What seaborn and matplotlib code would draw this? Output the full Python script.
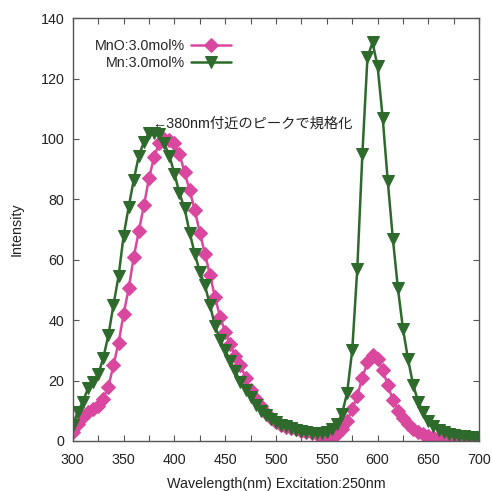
import numpy as np
import pandas as pd
import matplotlib
matplotlib.use("Agg")
import matplotlib.pyplot as plt
import seaborn as sns

# ---- Data (5 nm steps)
wavelength = list(range(300, 701, 5))

mno_3mol = [
    3.0, 5.5, 8.0, 9.5, 10.5, 11.5, 14.0, 18.0, 25.0, 32.5,      # 300-345
    42.0, 50.5, 61.0, 69.5, 78.0, 87.0, 94.0, 98.5, 100.0, 99.5,  # 350-395
    98.5, 95.0, 89.0, 83.0, 76.5, 69.0, 62.0, 55.0, 47.5, 41.0,   # 400-445
    36.0, 32.0, 28.0, 25.0, 21.0, 17.0, 14.0, 11.5, 9.3, 7.7,     # 450-495
    6.4, 5.4, 4.7, 4.2, 3.8, 3.4, 3.1, 2.7, 2.2, 1.7,             # 500-545
    1.4, 1.5, 2.3, 4.0, 6.5, 10.5, 15.0, 21.0, 26.0, 28.5,        # 550-595
    27.0, 23.5, 18.5, 13.5, 10.0, 7.5, 5.5, 4.0, 3.0, 2.2,        # 600-645
    1.6, 1.2, 1.0, 0.9, 0.8, 0.7, 0.7, 0.7, 0.7, 0.7,             # 650-695
    0.7,                                                          # 700
]

mn_3mol = [
    5.3, 9.7, 13.0, 17.5, 19.5, 22.0, 27.5, 35.0, 45.0, 54.5,     # 300-345
    68.0, 77.5, 86.5, 94.5, 99.0, 102.0, 102.0, 101.5, 98.5, 94.5, # 350-395
    88.5, 82.0, 77.0, 69.0, 62.0, 56.0, 51.5, 45.0, 38.0, 33.5,   # 400-445
    30.0, 26.5, 23.0, 19.5, 17.0, 14.5, 12.0, 10.0, 8.5, 7.2,     # 450-495
    6.2, 5.4, 4.8, 4.2, 3.7, 3.2, 2.9, 2.6, 2.5, 2.7,             # 500-545
    3.1, 3.8, 5.5, 9.0, 16.0, 30.0, 57.0, 95.0, 127.0, 132.0,     # 550-595
    124.0, 107.0, 86.0, 67.0, 50.5, 37.0, 27.0, 18.5, 13.0, 9.5,  # 600-645
    6.5, 4.8, 3.6, 2.8, 2.3, 2.0, 1.7, 1.5, 1.3, 1.2,             # 650-695
    1.1,                                                          # 700
]

labels = ["MnO:3.0mol%", "Mn:3.0mol%"]
note = "←380nm付近のピークで規格化"
PINK = "#da479f"
GREEN = "#2e6a2c"
FS = 10.3
TXT = "#222222"

df = pd.DataFrame({"wl": wavelength, "mno": mno_3mol, "mn": mn_3mol})

# ---- Style
sns.set_style("ticks")
plt.rcParams["font.family"] = ["Liberation Sans", "Noto Sans CJK JP", "DejaVu Sans"]
plt.rcParams["axes.edgecolor"] = "#555555"
plt.rcParams["axes.linewidth"] = 1.0

fig = plt.figure(figsize=(4.92, 4.91), dpi=100)
ax = fig.add_axes([0.148, 0.102, 0.826, 0.861])

sns.lineplot(data=df, x="wl", y="mno", ax=ax, color=PINK, lw=1.8,
             marker="D", markersize=7.5, markeredgecolor=PINK,
             label=labels[0], sort=False)
sns.lineplot(data=df, x="wl", y="mn", ax=ax, color=GREEN, lw=1.8,
             marker="v", markersize=8.5, markeredgecolor=GREEN,
             label=labels[1], sort=False)

ax.set_xlim(300, 700)
ax.set_ylim(0, 140)
ax.set_xticks(range(300, 701, 50))
ax.set_xticks(range(300, 701, 25), minor=True)
ax.set_yticks(range(0, 141, 20))
ax.tick_params(which="both", direction="in", top=True, right=True,
               length=4.5, width=0.8, color="#555555",
               labelsize=FS, labelcolor=TXT)
ax.tick_params(axis="x", pad=9)
ax.tick_params(axis="y", pad=6)
for s in ax.spines.values():
    s.set_visible(True)

ax.set_xlabel("Wavelength(nm) Excitation:250nm", fontsize=FS, color=TXT, labelpad=7)
ax.set_ylabel("Intensity", fontsize=FS, color=TXT, labelpad=12)

# note sits above the markers so the arrow stays visible
ax.text(378, 105, note, fontsize=FS, color=TXT, va="center", ha="left", zorder=10)

leg = ax.legend(loc="upper left", bbox_to_anchor=(0.054, 0.951), frameon=False,
                markerfirst=False, fontsize=FS, handlelength=2.8,
                handletextpad=0.4, labelspacing=0.2, borderaxespad=0.0,
                borderpad=0.0)

fig.savefig("out.png", dpi=100)
